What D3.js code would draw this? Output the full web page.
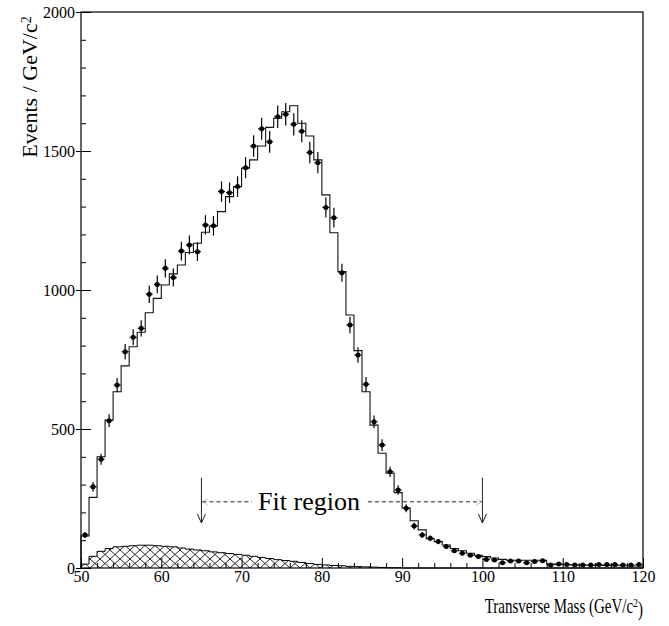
<!DOCTYPE html>
<html>
<head>
<meta charset="utf-8">
<script src="https://cdn.jsdelivr.net/npm/d3@7"></script>
<style>
  body { margin: 0; background: #fff; }
  svg { display: block; }
  text { font-family: "Liberation Serif", "Times New Roman", serif; fill: #000; }
</style>
</head>
<body>
<svg id="chart" width="669" height="626"></svg>
<script>
// Transverse mass spectrum, 1 GeV/c² bins from 50 to 120 GeV/c²
const binLowEdges = d3.range(50, 120);

// Observed events per bin
const dataCounts = [
  119, 292, 391, 530, 658, 778, 830, 862, 985, 1020,
  1078, 1045, 1140, 1162, 1138, 1234, 1231, 1354, 1350, 1372,
  1440, 1518, 1580, 1533, 1623, 1632, 1596, 1571, 1495, 1458,
  1297, 1260, 1062, 874, 766, 661, 526, 442, 346, 281,
  215, 151, 119, 107, 95, 77, 62, 53, 46, 41,
  31, 29, 19, 25, 25, 19, 23, 26, 11, 14,
  13, 11, 11, 11, 13, 13, 13, 11, 11, 13
];

// Simulated signal + background prediction
const mcCounts = [
  115, 254, 400, 532, 634, 727, 796, 848, 918, 970,
  1018, 1058, 1090, 1135, 1168, 1208, 1230, 1282, 1336, 1372,
  1438, 1468, 1518, 1585, 1618, 1641, 1663, 1600, 1554, 1468,
  1342, 1206, 1066, 910, 782, 634, 514, 413, 341, 271,
  216, 170, 137, 105, 95, 83, 70, 62, 53, 46,
  41, 36, 31, 28, 28, 28, 28, 28, 14, 13,
  12, 11, 10, 10, 9, 9, 8, 8, 7, 7
];

// Background contribution (hatched)
const bkgCounts = [
  14, 42, 60, 70, 76, 78, 80, 82, 82, 80,
  78, 76, 72, 68, 65, 62, 58, 55, 52, 49,
  46, 42, 38, 34, 30, 27, 24, 20, 16, 13,
  11, 9, 8, 6, 5, 4, 3, 2, 1, 1,
  0, 0, 0, 0, 0, 0, 0, 0, 0, 0,
  0, 0, 0, 0, 0, 0, 0, 0, 0, 0,
  0, 0, 0, 0, 0, 0, 0, 0, 0, 0
];

const xMajorTicks = [50, 60, 70, 80, 90, 100, 110, 120];
const xMinorTicks = [52, 54, 56, 58, 62, 64, 66, 68, 72, 74, 76, 78, 82, 84, 86, 88,
                     92, 94, 96, 98, 102, 104, 106, 108, 112, 114, 116, 118];
const yMajorTicks = [0, 500, 1000, 1500, 2000];
const yMinorTicks = [100, 200, 300, 400, 600, 700, 800, 900, 1100, 1200, 1300, 1400,
                     1600, 1700, 1800, 1900];

// Fit window markers
const fitRegion = [65, 100];
const fitArrowTop = 325, fitArrowTip = 162, fitLineLevel = 238;
const fitLabel = "Fit region";
const fitLabelCenter = 78.4;

const W = 669, H = 626;
const margin = { left: 81, top: 12, right: 26, bottom: 58 };
const x = d3.scaleLinear().domain([50, 120]).range([margin.left, W - margin.right]);
const y = d3.scaleLinear().domain([0, 2000]).range([H - margin.bottom, margin.top]);

const svg = d3.select("#chart");

// Crosshatch pattern for the background
const defs = svg.append("defs");
const pat = defs.append("pattern")
  .attr("id", "xhatch").attr("patternUnits", "userSpaceOnUse")
  .attr("width", 10).attr("height", 9)
  .attr("y", H - margin.bottom);
pat.append("path").attr("d", "M0,0 L10,9 M0,9 L10,0")
  .attr("stroke", "#111").attr("stroke-width", 0.9).attr("fill", "none");

const stepPoints = counts => {
  const pts = binLowEdges.map((lo, i) => [lo, counts[i]]);
  pts.push([120, counts[counts.length - 1]]);
  return pts;
};

// Background histogram (hatched)
const bkgArea = d3.area()
  .x(d => x(d[0])).y0(y(0)).y1(d => y(d[1]))
  .curve(d3.curveStepAfter);
svg.append("path")
  .datum(stepPoints(bkgCounts))
  .attr("d", bkgArea)
  .attr("fill", "url(#xhatch)")
  .attr("stroke", "none");
svg.append("path")
  .datum([[50, 0], ...stepPoints(bkgCounts)])
  .attr("d", d3.line().x(d => x(d[0])).y(d => y(d[1])).curve(d3.curveStepAfter))
  .attr("fill", "none").attr("stroke", "#000").attr("stroke-width", 1);

// Prediction histogram
svg.append("path")
  .datum([[50, 0], ...stepPoints(mcCounts)])
  .attr("d", d3.line().x(d => x(d[0])).y(d => y(d[1])).curve(d3.curveStepAfter))
  .attr("fill", "none").attr("stroke", "#111").attr("stroke-width", 1.1);

// Data points with Poisson uncertainties
const pts = svg.append("g");
binLowEdges.forEach((lo, i) => {
  const v = dataCounts[i];
  const err = Math.sqrt(v);
  const cx = x(lo + 0.5);
  pts.append("line")
    .attr("x1", cx).attr("x2", cx)
    .attr("y1", y(v - err)).attr("y2", y(v + err))
    .attr("stroke", "#000").attr("stroke-width", 1.2);
  pts.append("line")
    .attr("x1", cx - 3.5).attr("x2", cx + 3.5)
    .attr("y1", y(v)).attr("y2", y(v))
    .attr("stroke", "#000").attr("stroke-width", 1.1);
  pts.append("circle")
    .attr("cx", cx).attr("cy", y(v)).attr("r", 2.5)
    .attr("fill", "#000");
});

// Axes: ticks drawn inward, major ticks also poke slightly outside on the left
const axisStyle = g => {
  g.select(".domain").remove();
  g.selectAll("line").attr("stroke", "#000").attr("stroke-width", 1);
  g.selectAll("text").attr("font-size", 16).attr("font-family", "Liberation Serif, serif");
};

svg.append("g").attr("transform", `translate(${margin.left},0)`)
  .call(d3.axisLeft(y).tickValues(yMajorTicks).tickSizeInner(-10).tickSizeOuter(0)
    .tickPadding(6).tickFormat(d3.format("d")))
  .call(axisStyle);
svg.append("g").attr("transform", `translate(${margin.left},0)`)
  .call(d3.axisLeft(y).tickValues(yMajorTicks).tickSize(5).tickFormat(""))
  .call(axisStyle);
svg.append("g").attr("transform", `translate(${margin.left},0)`)
  .call(d3.axisLeft(y).tickValues(yMinorTicks).tickSize(-5).tickFormat(""))
  .call(axisStyle);

svg.append("g").attr("transform", `translate(0,${H - margin.bottom})`)
  .call(d3.axisBottom(x).tickValues(xMajorTicks).tickSizeInner(-10).tickSizeOuter(0)
    .tickPadding(3).tickFormat(d3.format("d")))
  .call(axisStyle);
svg.append("g").attr("transform", `translate(0,${H - margin.bottom})`)
  .call(d3.axisBottom(x).tickValues(xMinorTicks).tickSize(-5).tickFormat(""))
  .call(axisStyle);

// Frame
svg.append("rect")
  .attr("x", x(50)).attr("y", y(2000))
  .attr("width", x(120) - x(50)).attr("height", y(0) - y(2000))
  .attr("fill", "none").attr("stroke", "#000").attr("stroke-width", 1.2);

// Axis titles
const yTitle = svg.append("text")
  .attr("transform", `translate(37,87) rotate(-90)`)
  .attr("text-anchor", "middle")
  .attr("font-size", 22);
yTitle.append("tspan").text("Events / GeV/c");
yTitle.append("tspan").attr("dy", "-0.45em").attr("font-size", 14).text("2");

const xTitle = svg.append("text")
  .attr("transform", `translate(${x(120)},613) scale(0.75,1)`)
  .attr("text-anchor", "end")
  .attr("font-size", 20);
xTitle.append("tspan").text("Transverse Mass (GeV/c");
xTitle.append("tspan").attr("dy", "-0.45em").attr("font-size", 13).text("2");
xTitle.append("tspan").attr("dy", "0.45em").text(")");

// Fit region annotation
const fitG = svg.append("g");
fitRegion.forEach(m => {
  const ax = x(m);
  fitG.append("line")
    .attr("x1", ax).attr("x2", ax).attr("y1", y(fitArrowTop)).attr("y2", y(fitArrowTip))
    .attr("stroke", "#222").attr("stroke-width", 1);
  fitG.append("path")
    .attr("d", `M${ax - 4},${y(fitArrowTip) - 9} L${ax},${y(fitArrowTip)} L${ax + 4},${y(fitArrowTip) - 9}`)
    .attr("fill", "none").attr("stroke", "#222").attr("stroke-width", 1);
});
const label = fitG.append("text")
  .attr("x", x(fitLabelCenter)).attr("y", y(fitLineLevel) + 8)
  .attr("text-anchor", "middle")
  .attr("font-size", 26)
  .text(fitLabel);
const bb = label.node().getBBox();
const ly = y(fitLineLevel);
fitG.append("line")
  .attr("x1", x(fitRegion[0]) + 1).attr("x2", bb.x - 6).attr("y1", ly).attr("y2", ly)
  .attr("stroke", "#222").attr("stroke-width", 1).attr("stroke-dasharray", "4,3");
fitG.append("line")
  .attr("x1", bb.x + bb.width + 8).attr("x2", x(fitRegion[1]) - 1).attr("y1", ly).attr("y2", ly)
  .attr("stroke", "#222").attr("stroke-width", 1).attr("stroke-dasharray", "4,3");
fitG.append("path")
  .attr("d", `M${x(fitRegion[0]) + 6},${ly - 3} L${x(fitRegion[0]) + 1},${ly} L${x(fitRegion[0]) + 6},${ly + 3}`)
  .attr("fill", "none").attr("stroke", "#888").attr("stroke-width", 0.8).attr("stroke-dasharray", "1.5,1");
fitG.append("path")
  .attr("d", `M${x(fitRegion[1]) - 6},${ly - 3} L${x(fitRegion[1]) - 1},${ly} L${x(fitRegion[1]) - 6},${ly + 3}`)
  .attr("fill", "none").attr("stroke", "#888").attr("stroke-width", 0.8).attr("stroke-dasharray", "1.5,1");
</script>
</body>
</html>
